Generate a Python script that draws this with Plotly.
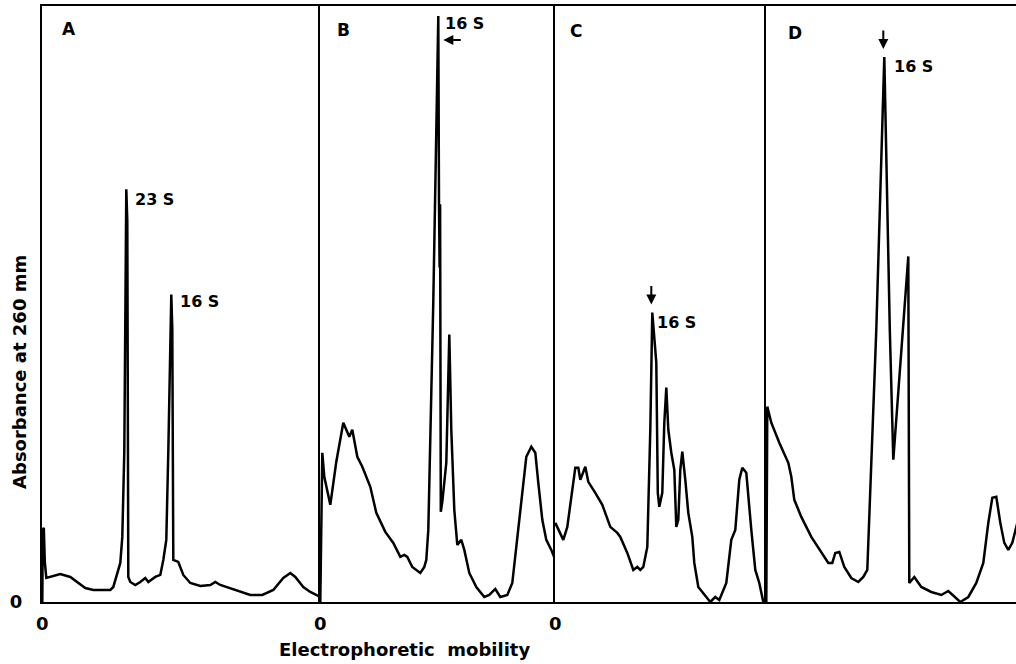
import plotly.graph_objects as go

# ---- data (mobility offset from each panel origin, absorbance in arbitrary units) ----
a_x = [0, 0.5, 1.5, 2.5, 4, 18, 28, 43, 51, 68, 71, 78, 80, 82, 84, 85, 86, 88, 93, 98, 103, 106,
       113, 118, 121, 124, 126, 128, 129, 130, 131, 136, 141, 148, 158, 168, 173, 178, 193, 208,
       220, 231, 241, 248, 253, 261, 268, 276, 278]
a_y = [0, 72, 74, 40, 24, 28, 25, 14, 12, 12, 15, 39, 65, 150, 412, 380, 25, 20, 17, 20, 24, 20,
       25, 27, 42, 62, 150, 272, 307, 272, 42, 40, 27, 19, 16, 17, 20, 17, 12, 7,
       7, 12, 24, 29, 25, 15, 10, 6, 4]

b_x = [0, 2, 4, 10, 16, 23, 29, 32, 37, 42, 50, 56, 65, 73, 80, 84, 87, 92, 100, 104,
       106, 108, 113, 118, 118.7, 119.3, 119.8, 120.5, 122, 125, 126, 129, 131, 134, 137, 141, 144, 149, 156, 164,
       169, 175, 180, 187, 192, 196, 200, 206, 211, 215, 218, 222, 226, 231, 235]
b_y = [0, 149, 125, 97, 140, 179, 165, 172, 145, 135, 115, 89, 70, 59, 45, 47, 45, 35, 29, 35,
       42, 72, 300, 585, 397, 334, 397, 90, 100, 129, 139, 267, 172, 92, 57, 62, 52, 29, 15, 5,
       7, 13, 5, 7, 19, 55, 89, 145, 155, 149, 119, 82, 62, 52, 42]

c_x = [0, 3, 8, 12, 15, 20, 23, 25, 30, 33, 40, 47, 55, 62, 65, 72, 78, 82, 85, 88,
       92, 95, 97, 99, 101, 102.5, 104, 107, 109, 111, 113, 116, 119, 121, 123, 125, 127, 130, 133, 137,
       139, 143, 149, 155, 160, 164, 171, 176, 180, 184, 187, 191, 196, 200, 204, 208]
c_y = [79, 72, 62, 75, 99, 134, 134, 122, 135, 120, 109, 97, 75, 69, 65, 49, 32, 35, 32, 35,
       55, 172, 289, 262, 239, 109, 95, 109, 179, 214, 172, 149, 132, 75, 82, 132, 150, 122, 89, 65,
       39, 15, 7, 0, 5, 2, 19, 62, 72, 122, 134, 129, 72, 32, 19, 0]

d_x = [0, 1, 5, 13, 22, 25, 28, 35, 45, 55, 62, 66, 69, 73, 78, 85, 92, 97, 101, 110, 118,
       123.5, 127, 142, 143, 148, 155, 165, 175, 182, 188, 194, 202, 210, 217, 222, 226, 230, 234,
       238, 242, 246, 251]
d_y = [0, 195, 179, 159, 139, 125, 102, 85, 65, 49, 39, 39, 49, 50, 35, 24, 20, 25, 32, 272, 544,
       272, 142, 345, 19, 25, 15, 10, 7, 11, 5, 0, 5, 19, 39, 79, 104, 105, 79,
       59, 52, 59, 79]

panel_names = ["A", "B", "C", "D"]
panel_widths = [278, 235, 211, 250]   # mobility span shown in each panel
panel_label_x = [18, 15, 13, 20]
panel_label_y = [572, 571, 570, 568]
y_top = 595

# peak labels: (panel index, x, y, text)
peak_labels = [(0, 91, 402, "23 S"), (0, 136, 300, "16 S"), (1, 123, 578, "16 S"),
               (2, 100, 279, "16 S"), (3, 126, 535, "16 S")]
# arrows: (panel index, tip x, tip y, ax, ay)
arrows = [(1, 123, 561, 19, 0), (2, 96, 297, 0, -20), (3, 117, 552, 0, -20)]

FONT = "DejaVu Sans, sans-serif"

fig = go.Figure()
series = [(a_x, a_y), (b_x, b_y), (c_x, c_y), (d_x, d_y)]
total = sum(panel_widths)
start = 0
layout = {}
for i, ((xs, ys), w) in enumerate(zip(series, panel_widths)):
    sfx = "" if i == 0 else str(i + 1)
    fig.add_trace(go.Scatter(x=xs, y=ys, mode="lines", xaxis="x" + sfx, yaxis="y" + sfx,
                             line=dict(color="black", width=2.5), hoverinfo="skip"))
    dom = [start / total, (start + w) / total]
    start += w
    layout["xaxis" + sfx] = dict(domain=dom, range=[-0.3, w - 0.3], anchor="y" + sfx,
                                 showline=True, linecolor="black", linewidth=2, mirror=True,
                                 showgrid=False, zeroline=False, ticks="",
                                 tickmode="array", tickvals=[0], ticktext=["0"],
                                 showticklabels=(i < 3), ticklabeloverflow="allow",
                                 tickfont=dict(size=18, color="black", family=FONT, weight="bold"),
                                 ticklabelstandoff=4)
    layout["yaxis" + sfx] = dict(range=[0, y_top], anchor="x" + sfx,
                                 showline=True, linecolor="black", linewidth=2, mirror=False,
                                 showgrid=False, zeroline=False, ticks="",
                                 tickvals=[0], ticktext=["0"], showticklabels=(i == 0),
                                 tickfont=dict(size=18, color="black", family=FONT, weight="bold"),
                                 ticklabelstandoff=14)

annotations = []
for i, name in enumerate(panel_names):
    sfx = "" if i == 0 else str(i + 1)
    annotations.append(dict(x=panel_label_x[i], y=panel_label_y[i], xref="x" + sfx, yref="y" + sfx,
                            text=name, showarrow=False, xanchor="left", yanchor="middle",
                            font=dict(size=17, color="black", family=FONT, weight="bold")))
for i, x, y, t in peak_labels:
    sfx = "" if i == 0 else str(i + 1)
    annotations.append(dict(x=x, y=y, xref="x" + sfx, yref="y" + sfx, text=t,
                            showarrow=False, xanchor="left", yanchor="middle",
                            font=dict(size=16, color="black", family=FONT, weight="bold")))
for i, x, y, ax, ay in arrows:
    sfx = "" if i == 0 else str(i + 1)
    annotations.append(dict(x=x, y=y, xref="x" + sfx, yref="y" + sfx, text="",
                            showarrow=True, ax=ax, ay=ay, arrowhead=2, arrowsize=1,
                            arrowwidth=2, arrowcolor="black"))
annotations.append(dict(x=(404 - 42) / 974, y=-0.08, xref="paper", yref="paper",
                        text="Electrophoretic  mobility", showarrow=False,
                        xanchor="center", yanchor="middle",
                        font=dict(size=18, color="black", family=FONT, weight="bold")))
annotations.append(dict(x=-0.0226, y=0.386, xref="paper", yref="paper",
                        text="Absorbance at 260 mm", showarrow=False, textangle=-90,
                        xanchor="center", yanchor="middle",
                        font=dict(size=18, color="black", family=FONT, weight="bold")))

fig.update_layout(width=1016, height=664, margin=dict(l=42, r=0, t=6, b=62),
                  paper_bgcolor="white", plot_bgcolor="white", showlegend=False,
                  annotations=annotations, **layout)
fig.write_html("out.html")
